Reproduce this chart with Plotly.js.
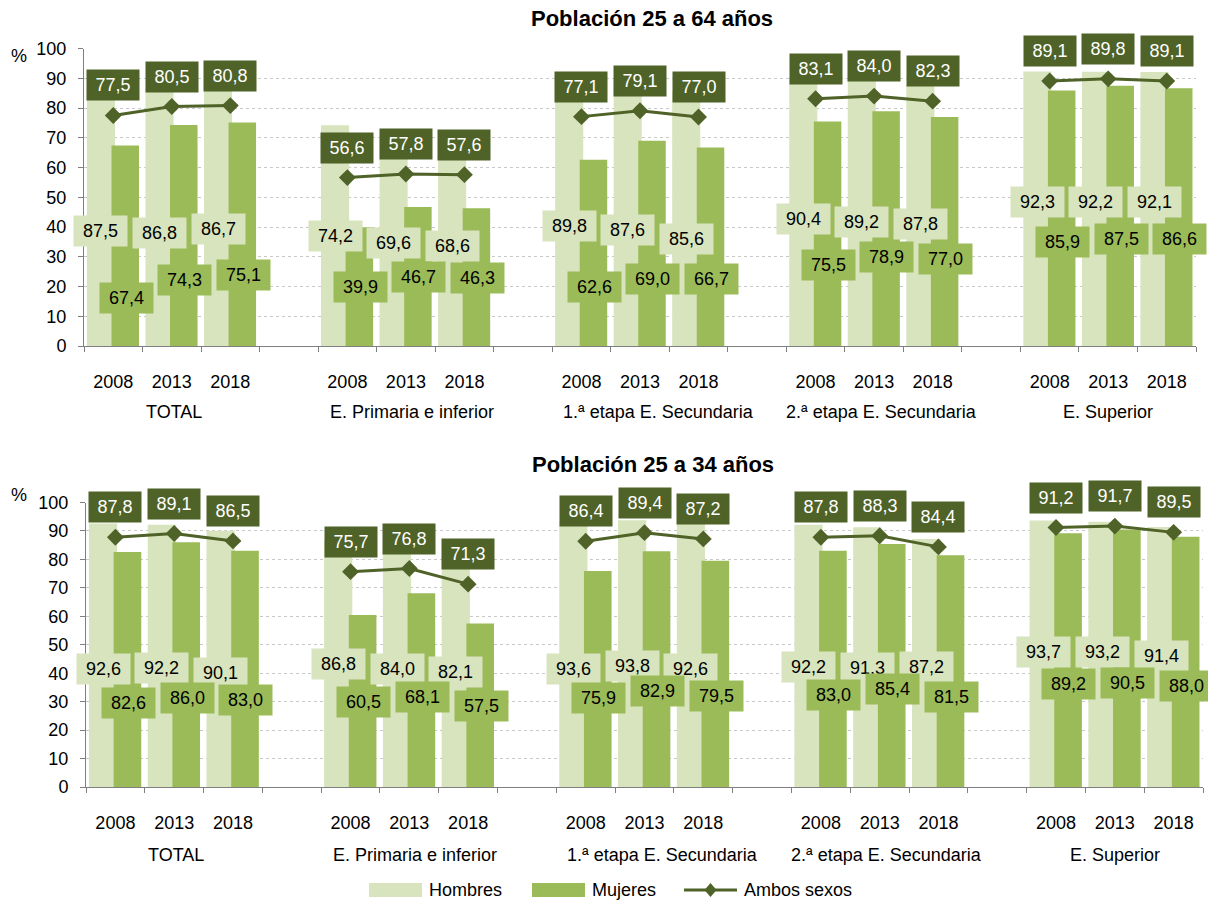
<!DOCTYPE html>
<html><head><meta charset="utf-8">
<script src="https://cdn.plot.ly/plotly-3.0.1.min.js"></script>
<style>html,body{margin:0;padding:0;background:#fff}#chart{width:1208px;height:901px}</style>
</head><body><div id="chart"></div>
<script>
// ---- data ----
const groups = ["TOTAL", "E. Primaria e inferior", "1.ª etapa E. Secundaria", "2.ª etapa E. Secundaria", "E. Superior"];
const years = ["2008", "2013", "2018"];
const seriesNames = ["Hombres", "Mujeres", "Ambos sexos"];
const titles = ["Población 25 a 64 años", "Población 25 a 34 años"];

const hombres64 = [87.5, 86.8, 86.7, 74.2, 69.6, 68.6, 89.8, 87.6, 85.6, 90.4, 89.2, 87.8, 92.3, 92.2, 92.1];
const mujeres64 = [67.4, 74.3, 75.1, 39.9, 46.7, 46.3, 62.6, 69.0, 66.7, 75.5, 78.9, 77.0, 85.9, 87.5, 86.6];
const ambos64   = [77.5, 80.5, 80.8, 56.6, 57.8, 57.6, 77.1, 79.1, 77.0, 83.1, 84.0, 82.3, 89.1, 89.8, 89.1];

const hombres34 = [92.6, 92.2, 90.1, 86.8, 84.0, 82.1, 93.6, 93.8, 92.6, 92.2, 91.3, 87.2, 93.7, 93.2, 91.4];
const mujeres34 = [82.6, 86.0, 83.0, 60.5, 68.1, 57.5, 75.9, 82.9, 79.5, 83.0, 85.4, 81.5, 89.2, 90.5, 88.0];
const ambos34   = [87.8, 89.1, 86.5, 75.7, 76.8, 71.3, 86.4, 89.4, 87.2, 87.8, 88.3, 84.4, 91.2, 91.7, 89.5];

// ---- label placement (height of the data-label boxes, in axis units) ----
const labelPosH64 = [38.7, 38.1, 39.3, 37.0, 34.6, 33.6, 40.3, 39.0, 36.0, 42.6, 41.8, 41.0, 48.4, 48.4, 48.4];
const labelPosM64 = [16.1, 22.2, 23.9, 19.9, 23.2, 22.9, 19.9, 22.5, 22.5, 27.2, 30.0, 29.1, 35.0, 36.0, 36.0];
const labelPosH34 = [41.5, 41.8, 40.0, 43.1, 41.5, 40.5, 41.5, 42.6, 41.4, 42.1, 41.7, 42.3, 47.6, 47.6, 46.0];
const labelPosM34 = [29.5, 31.3, 30.6, 30.0, 31.7, 28.6, 31.2, 33.9, 32.0, 32.3, 34.3, 31.5, 36.2, 36.4, 35.6];
// horizontal nudge of the group captions (px)
const groupShift = [2, 6, 18, 7, 0];

// ---- styling ----
const C_H = "#d7e4bd", C_M = "#9bbb59", C_A = "#4f6228";
const FONT = "Liberation Sans, Arial, sans-serif";
const W = 1208, H = 901;

const slot = i => Math.floor(i / years.length) * (years.length + 1) + (i % years.length);
const nSlots = groups.length * (years.length + 1) - 1;
const yearSlots = hombres64.map((_, i) => slot(i));
const yearText = hombres64.map((_, i) => years[i % years.length]);
const boundaries = Array.from({length: nSlots + 1}, (_, k) => k - 0.5);
const fmt = v => v.toFixed(1).replace(".", ",");

function lineXY(vals) {
  const x = [], y = [];
  vals.forEach((v, i) => {
    x.push(slot(i)); y.push(v);
    if (i % years.length === years.length - 1 && i < vals.length - 1) { x.push(slot(i) + 1); y.push(null); }
  });
  return {x, y};
}

const charts = [
  {h: hombres64, m: mujeres64, a: ambos64, lh: labelPosH64, lm: labelPosM64, xa: "x", ya: "y"},
  {h: hombres34, m: mujeres34, a: ambos34, lh: labelPosH34, lm: labelPosM34, xa: "x2", ya: "y2"}
];

const traces = [];
const annotations = [];
charts.forEach((c, ci) => {
  traces.push({type: "bar", name: seriesNames[0], x: yearSlots, y: c.h, xaxis: c.xa, yaxis: c.ya,
    offset: -0.45, width: 0.48, marker: {color: C_H, line: {width: 0}}, hoverinfo: "skip", showlegend: false});
  traces.push({type: "bar", name: seriesNames[1], x: yearSlots, y: c.m, xaxis: c.xa, yaxis: c.ya,
    offset: -0.03, width: 0.47, marker: {color: C_M, line: {width: 0}}, hoverinfo: "skip", showlegend: false});
  const L = lineXY(c.a);
  traces.push({type: "scatter", mode: "lines+markers", name: seriesNames[2], x: L.x, y: L.y, xaxis: c.xa, yaxis: c.ya,
    connectgaps: false, line: {color: C_A, width: 3}, marker: {symbol: "diamond", size: 13, color: C_A},
    hoverinfo: "skip", showlegend: false, cliponaxis: false});

  c.h.forEach((v, i) => annotations.push({xref: c.xa, yref: c.ya, x: slot(i) - 0.21, y: c.lh[i], text: fmt(v),
    showarrow: false, bgcolor: C_H, width: 53, height: 30, borderpad: 0, font: {size: 18, color: "#000", family: FONT}}));
  c.m.forEach((v, i) => annotations.push({xref: c.xa, yref: c.ya, x: slot(i) + 0.22, y: c.lm[i], text: fmt(v),
    showarrow: false, bgcolor: C_M, width: 53, height: 30, borderpad: 0, font: {size: 18, color: "#000", family: FONT}}));
  c.a.forEach((v, i) => annotations.push({xref: c.xa, yref: c.ya, x: slot(i), y: v, yshift: 30, text: fmt(v),
    showarrow: false, bgcolor: C_A, width: 52, height: 30, borderpad: 0, font: {size: 18, color: "#fff", family: FONT}}));
  groups.forEach((g, gi) => annotations.push({xref: c.xa, yref: "paper", x: slot(gi * years.length + 1), xshift: groupShift[gi],
    y: 1 - (ci === 0 ? 412 : 855) / H, yanchor: "middle", text: g, showarrow: false,
    font: {size: 18, color: "#000", family: FONT}}));
});

// titles and % labels
annotations.push({xref: "paper", yref: "paper", x: 652 / W, y: 1 - 18 / H, text: "<b>" + titles[0] + "</b>", showarrow: false,
  yanchor: "middle", font: {size: 22, color: "#000", family: FONT}});
annotations.push({xref: "paper", yref: "paper", x: 653 / W, y: 1 - 465 / H, text: "<b>" + titles[1] + "</b>", showarrow: false,
  yanchor: "middle", font: {size: 22, color: "#000", family: FONT}});
annotations.push({xref: "paper", yref: "paper", x: 29 / W, y: 1 - 56 / H, xanchor: "right", yanchor: "middle", text: "%",
  showarrow: false, font: {size: 18, color: "#000", family: FONT}});
annotations.push({xref: "paper", yref: "paper", x: 29 / W, y: 1 - 495 / H, xanchor: "right", yanchor: "middle", text: "%",
  showarrow: false, font: {size: 18, color: "#000", family: FONT}});

// custom legend
const LY = 890;
const shapes = [
  {type: "rect", xref: "paper", yref: "paper", x0: 369 / W, x1: 422 / W, y0: 1 - (LY + 7) / H, y1: 1 - (LY - 7) / H, fillcolor: C_H, line: {width: 0}},
  {type: "rect", xref: "paper", yref: "paper", x0: 532 / W, x1: 585 / W, y0: 1 - (LY + 7) / H, y1: 1 - (LY - 7) / H, fillcolor: C_M, line: {width: 0}},
  {type: "line", xref: "paper", yref: "paper", x0: 684 / W, x1: 737 / W, y0: 1 - LY / H, y1: 1 - LY / H, line: {color: C_A, width: 3}},
  {type: "path", xref: "paper", yref: "paper",
   path: `M ${710.5 / W} ${1 - (LY - 7) / H} L ${716.5 / W} ${1 - LY / H} L ${710.5 / W} ${1 - (LY + 7) / H} L ${704.5 / W} ${1 - LY / H} Z`,
   fillcolor: C_A, line: {width: 0}}
];
[[seriesNames[0], 427], [seriesNames[1], 590], [seriesNames[2], 742]].forEach(([t, px]) =>
  annotations.push({xref: "paper", yref: "paper", x: px / W, y: 1 - LY / H, xanchor: "left", yanchor: "middle", text: t,
    showarrow: false, font: {size: 18, color: "#000", family: FONT}}));

function xAxis(domain, anchor) {
  return {domain, anchor, range: [-0.5, nSlots - 0.5], tickmode: "array", tickvals: yearSlots, ticktext: yearText,
    ticks: "", showgrid: false, zeroline: false, showline: true, linecolor: "#7f7f7f", linewidth: 1,
    tickfont: {size: 18, color: "#000", family: FONT}, ticklabelstandoff: 19, fixedrange: true,
    minor: {tickmode: "array", tickvals: boundaries, ticks: "outside", ticklen: 5, tickcolor: "#7f7f7f", tickwidth: 1, showgrid: false}};
}
function yAxis(domain, anchor) {
  return {domain, anchor, range: [0, 100], tickmode: "linear", tick0: 0, dtick: 10, ticks: "outside", ticklen: 5,
    tickcolor: "#7f7f7f", showline: true, linecolor: "#7f7f7f", linewidth: 1, showgrid: true, gridcolor: "#c8c8c8",
    griddash: "dot", gridwidth: 1, zeroline: false, tickfont: {size: 18, color: "#000", family: FONT},
    ticklabelstandoff: 8, fixedrange: true};
}

const layout = {
  width: W, height: H, margin: {l: 0, r: 0, t: 0, b: 0}, paper_bgcolor: "#fff", plot_bgcolor: "#fff",
  font: {family: FONT, size: 18, color: "#000"}, barmode: "overlay", showlegend: false,
  xaxis: xAxis([84 / W, 1196 / W], "y"),
  yaxis: yAxis([1 - 346 / H, 1 - 48.5 / H], "x"),
  xaxis2: xAxis([86 / W, 1203 / W], "y2"),
  yaxis2: yAxis([1 - 787 / H, 1 - 502.5 / H], "x2"),
  annotations, shapes
};

Plotly.newPlot("chart", traces, layout, {staticPlot: true, displayModeBar: false});
</script>
</body></html>
